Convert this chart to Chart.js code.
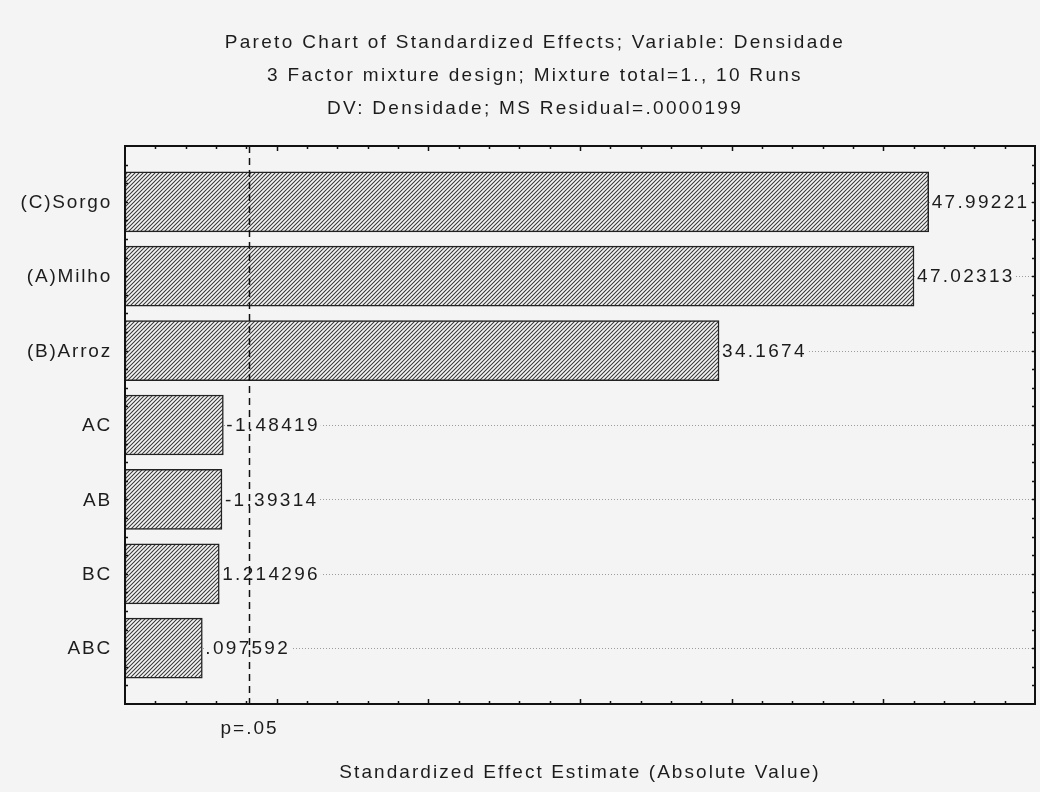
<!DOCTYPE html>
<html>
<head>
<meta charset="utf-8">
<title>Pareto Chart of Standardized Effects</title>
<script src="https://cdn.jsdelivr.net/npm/chart.js@4.4.0/dist/chart.umd.min.js"></script>
<style>
  html, body { margin: 0; padding: 0; background: #f4f4f4; }
  #wrap { width: 1040px; height: 792px; }
</style>
</head>
<body>
<div id="wrap"><canvas id="pareto" width="1040" height="792"></canvas></div>
<script>
// efeitos padronizados (t) — mistura de 3 fatores, variável Densidade
const EFFECT_NAMES = ['(C)Sorgo', '(A)Milho', '(B)Arroz', 'AC', 'AB', 'BC', 'ABC'];
const EFFECT_VALUES = [47.99221, 47.02313, 34.1674, -1.48419, -1.39314, 1.214296, 0.097592];
const P_CRIT = 3.182446;          // t(0.975; 3 gl)
const X_RANGE = [-5, 55];
const X_STEP = 1, X_MAJOR = 5;
const Y_STEP = 0.25;

const TITLE_LINES = [
  'Pareto Chart of Standardized Effects; Variable: Densidade',
  '3 Factor mixture design; Mixture total=1., 10 Runs',
  'DV: Densidade; MS Residual=.0000199'
];
const X_TITLE = 'Standardized Effect Estimate (Absolute Value)';
const P_LABEL = 'p=.05';

const BG = '#f4f4f4';
const INK = '#1c1c1c';
const FONT = "'Liberation Sans', Arial, sans-serif";

// estilo Statistica: sem zero à esquerda (.097592)
const fmt = v => String(v).replace(/^(-?)0\./, '$1.');

function hatchPattern() {
  const c = document.createElement('canvas');
  c.width = c.height = 4;
  const g = c.getContext('2d');
  g.fillStyle = BG; g.fillRect(0, 0, 4, 4);
  g.strokeStyle = '#383838'; g.lineWidth = 1.05;
  g.beginPath();
  g.moveTo(-1, 5); g.lineTo(5, -1);
  g.moveTo(-1, 1); g.lineTo(1, -1);
  g.moveTo(3, 5); g.lineTo(5, 3);
  g.stroke();
  return g.createPattern(c, 'repeat');
}

function text(ctx, s, x, y, align, size, spacing) {
  ctx.save();
  ctx.font = size + 'px ' + FONT;
  ctx.letterSpacing = spacing + 'px';
  ctx.fillStyle = INK;
  ctx.textAlign = align;
  ctx.textBaseline = 'middle';
  ctx.fillText(s, x, y);
  ctx.restore();
}

function scaleTicks(scale, step) {
  if (scale.ticks && scale.ticks.length) return scale.ticks.map(t => t.value);
  const out = [];
  for (let v = scale.min; v <= scale.max + 1e-9; v += step) out.push(v);
  return out;
}

const paretoDecor = {
  id: 'paretoDecor',
  beforeDatasetsDraw(chart) {
    const { ctx, chartArea: a, scales: { y } } = chart;
    // linhas pontilhadas em cada efeito
    ctx.save();
    ctx.strokeStyle = '#9c9c9c';
    ctx.lineWidth = 1;
    ctx.setLineDash([1, 2]);
    EFFECT_NAMES.forEach((_, i) => {
      const py = Math.round(y.getPixelForValue(i)) + 0.5;
      ctx.beginPath(); ctx.moveTo(a.left, py); ctx.lineTo(a.right, py); ctx.stroke();
    });
    ctx.restore();
  },
  afterDatasetsDraw(chart) {
    const { ctx, chartArea: a, scales: { x, y } } = chart;
    const meta = chart.getDatasetMeta(0);

    // rótulos de valor à direita das barras
    ctx.save();
    ctx.font = '19px ' + FONT;
    ctx.letterSpacing = '2.3px';
    meta.data.forEach((bar, i) => {
      const s = fmt(EFFECT_VALUES[i]);
      const end = Math.max(bar.x, bar.base);
      const w = ctx.measureText(s).width;
      ctx.fillStyle = BG;
      ctx.fillRect(end + 2, bar.y - 10, w + 2, 20);
      ctx.fillStyle = INK;
      ctx.textBaseline = 'middle';
      ctx.fillText(s, end + 3, bar.y + 1);
    });
    ctx.restore();

    // limite p=.05
    const px = Math.round(x.getPixelForValue(P_CRIT)) + 0.5;
    ctx.save();
    ctx.strokeStyle = '#111';
    ctx.lineWidth = 1.5;
    ctx.setLineDash([7, 5]);
    ctx.beginPath(); ctx.moveTo(px, a.top); ctx.lineTo(px, a.bottom); ctx.stroke();
    ctx.restore();

    // moldura e marcas internas nos quatro lados
    ctx.save();
    ctx.strokeStyle = '#111';
    ctx.lineWidth = 2;
    ctx.strokeRect(a.left, a.top, a.right - a.left, a.bottom - a.top);
    ctx.lineWidth = 1.5;
    ctx.beginPath();
    scaleTicks(x, X_STEP).forEach(v => {
      const tx = Math.round(x.getPixelForValue(v)) + 0.5;
      if (tx <= a.left + 1 || tx >= a.right - 1) return;
      const len = Math.abs(v % X_MAJOR) < 1e-9 ? 5 : 3;
      ctx.moveTo(tx, a.bottom); ctx.lineTo(tx, a.bottom - len);
      ctx.moveTo(tx, a.top); ctx.lineTo(tx, a.top + len);
    });
    scaleTicks(y, Y_STEP).forEach(v => {
      const ty = Math.round(y.getPixelForValue(v)) + 0.5;
      if (ty <= a.top + 1 || ty >= a.bottom - 1) return;
      ctx.moveTo(a.left, ty); ctx.lineTo(a.left + 3, ty);
      ctx.moveTo(a.right, ty); ctx.lineTo(a.right - 3, ty);
    });
    ctx.stroke();
    ctx.restore();

    // nomes dos efeitos
    EFFECT_NAMES.forEach((name, i) => {
      text(ctx, name, a.left - 13, y.getPixelForValue(i) + 1, 'right', 19, 1.8);
    });

    // títulos
    TITLE_LINES.forEach((line, i) => text(ctx, line, 535, 43 + i * 33, 'center', 19, 2.3));
    text(ctx, P_LABEL, px, 729, 'center', 19, 2);
    text(ctx, X_TITLE, (a.left + a.right) / 2, 773, 'center', 19, 2.05);
  }
};

new Chart(document.getElementById('pareto'), {
  type: 'bar',
  data: {
    labels: EFFECT_NAMES,
    datasets: [{
      data: EFFECT_VALUES.map((v, i) => ({ x: [X_RANGE[0], Math.abs(v)], y: i })),
      backgroundColor: hatchPattern(),
      borderColor: '#222',
      borderWidth: 1.5,
      borderSkipped: false,
      barThickness: 60
    }]
  },
  options: {
    indexAxis: 'y',
    responsive: false,
    animation: false,
    devicePixelRatio: 1,
    layout: { padding: { left: 125, top: 146, right: 5, bottom: 88 } },
    plugins: { legend: { display: false }, tooltip: { enabled: false }, title: { display: false } },
    scales: {
      x: { type: 'linear', min: X_RANGE[0], max: X_RANGE[1], display: false, ticks: { stepSize: X_STEP } },
      y: { type: 'linear', min: -0.75, max: EFFECT_NAMES.length - 0.25, reverse: true, offset: false, display: false, ticks: { stepSize: Y_STEP } }
    }
  },
  plugins: [paretoDecor]
});
</script>
</body>
</html>
